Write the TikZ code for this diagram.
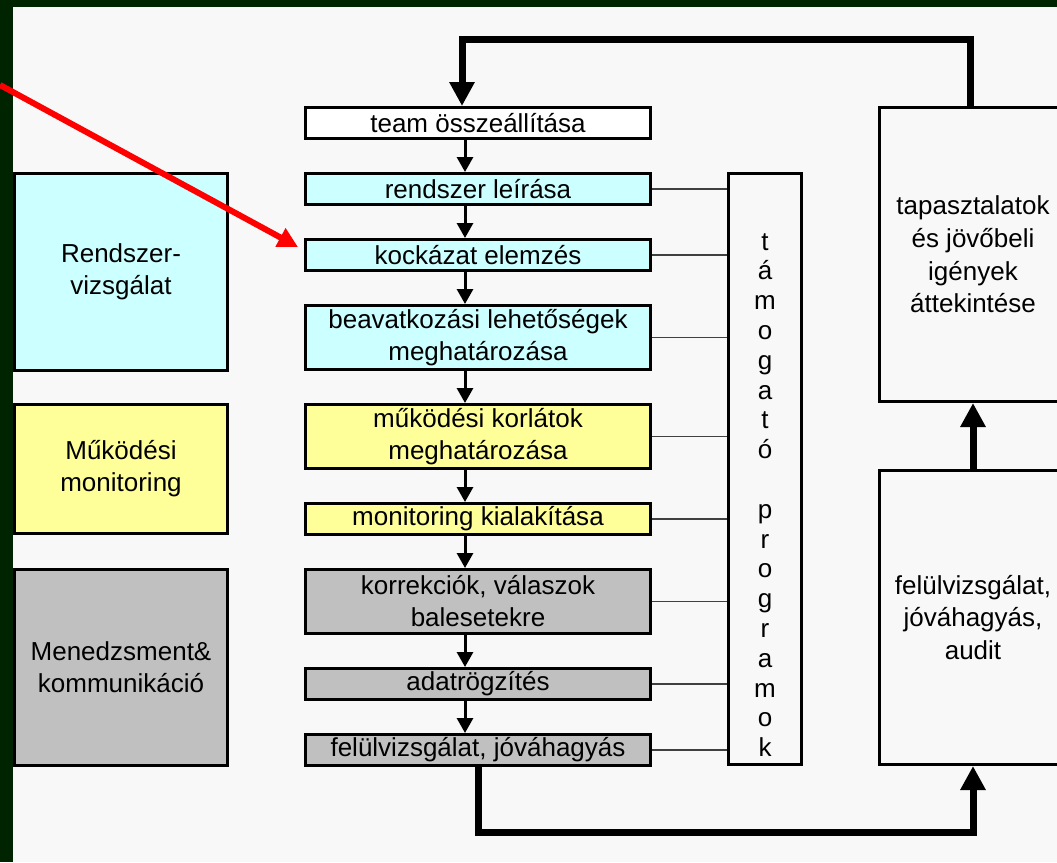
\documentclass[tikz,border=0pt]{standalone}
\usepackage{fontspec}
\setmainfont{Liberation Sans}
\usetikzlibrary{arrows.meta,positioning}
\definecolor{DarkFrame}{RGB}{0,36,0}
\definecolor{PaperGray}{RGB}{248,248,248}
\definecolor{SoftCyan}{RGB}{204,255,255}
\definecolor{SoftYellow}{RGB}{255,255,153}
\definecolor{MidGray}{RGB}{192,192,192}

\begin{document}
\begin{tikzpicture}[>=Latex, font=\fontsize{18.5}{22.8}\selectfont,
    flowbox/.style={draw, line width=0.075cm, minimum width=8.625cm, minimum height=0.775cm, inner sep=0pt, align=center},
    twoline/.style={minimum height=1.6cm},
    phasebox/.style={draw, line width=0.075cm, minimum width=5.325cm, inner sep=0pt, align=center},
    reviewbox/.style={draw, line width=0.075cm, fill=PaperGray, minimum width=4.675cm, minimum height=7.35cm, inner sep=0pt, align=center, font=\fontsize{18.5}{23.3}\selectfont},
    flow/.style={line width=0.075cm, -{Triangle[width=0.4cm,length=0.375cm]}},
    loopline/.style={line width=0.175cm, -{Triangle[width=0.6cm,length=0.6cm]}},
    link/.style={line width=0.03cm, black!75}]
    \clip (0,0) rectangle (26.425,-21.55);
    \fill [DarkFrame] (0,0) rectangle (26.425,-21.55);
    \fill [PaperGray] (0.325,-0.175) rectangle (26.425,-21.55);

    \node [flowbox, fill=white] (team) at (11.95,-3.075) {team összeállítása};
    \node [flowbox, fill=SoftCyan, below=0.8cm of team] (leiras) {rendszer leírása};
    \node [flowbox, fill=SoftCyan, below=0.8cm of leiras] (kockazat) {kockázat elemzés};
    \node [flowbox, twoline, fill=SoftCyan, below=0.8cm of kockazat] (beavatkozas) {beavatkozási lehetőségek\\meghatározása};
    \node [flowbox, twoline, fill=SoftYellow, below=0.8cm of beavatkozas] (korlatok) {működési korlátok\\meghatározása};
    \node [flowbox, fill=SoftYellow, below=0.8cm of korlatok] (monitoring) {monitoring kialakítása};
    \node [flowbox, twoline, fill=MidGray, below=0.8cm of monitoring] (korrekcio) {korrekciók, válaszok\\balesetekre};
    \node [flowbox, fill=MidGray, below=0.8cm of korrekcio] (adat) {adatrögzítés};
    \node [flowbox, fill=MidGray, below=0.8cm of adat] (jovahagyas) {felülvizsgálat, jóváhagyás};

    \node [phasebox, fill=SoftCyan, minimum height=4.925cm] (rendszer) at (3.025,-6.8) {Rendszer-\\vizsgálat};
    \node [phasebox, fill=SoftYellow, minimum height=3.225cm] (mukodes) at (3.025,-11.725) {Működési\\monitoring};
    \node [phasebox, fill=MidGray, minimum height=4.9cm] (menedzsment) at (3.025,-16.6875) {Menedzsment\&\\kommunikáció};

    \node [draw, line width=0.075cm, fill=PaperGray, minimum width=1.825cm, minimum height=14.775cm] (tamogato) at (19.125,-11.725) {};
    \node [align=center, inner sep=0pt, font=\fontsize{18.5}{21.2}\selectfont] (tamszoveg) at ([yshift=-0.65cm]tamogato.center) {t\\á\\m\\o\\g\\a\\t\\ó\\\mbox{}\\p\\r\\o\\g\\r\\a\\m\\o\\k};

    \node [reviewbox] (tapasztalat) at (24.325,-6.3625) {tapasztalatok\\és jövőbeli\\igények\\áttekintése};
    \node [reviewbox] (audit) at (24.325,-15.4375) {felülvizsgálat,\\jóváhagyás,\\audit};

    \draw [flow] ([xshift=-0.325cm]team.south) -- ([xshift=-0.325cm]leiras.north);
    \draw [flow] ([xshift=-0.325cm]leiras.south) -- ([xshift=-0.325cm]kockazat.north);
    \draw [flow] ([xshift=-0.325cm]kockazat.south) -- ([xshift=-0.325cm]beavatkozas.north);
    \draw [flow] ([xshift=-0.325cm]beavatkozas.south) -- ([xshift=-0.325cm]korlatok.north);
    \draw [flow] ([xshift=-0.325cm]korlatok.south) -- ([xshift=-0.325cm]monitoring.north);
    \draw [flow] ([xshift=-0.325cm]monitoring.south) -- ([xshift=-0.325cm]korrekcio.north);
    \draw [flow] ([xshift=-0.325cm]korrekcio.south) -- ([xshift=-0.325cm]adat.north);
    \draw [flow] ([xshift=-0.325cm]adat.south) -- ([xshift=-0.325cm]jovahagyas.north);

    \draw [link] (leiras.east) -- (leiras.east -| tamogato.west);
    \draw [link] (kockazat.east) -- (kockazat.east -| tamogato.west);
    \draw [link] (beavatkozas.east) -- (beavatkozas.east -| tamogato.west);
    \draw [link] (korlatok.east) -- (korlatok.east -| tamogato.west);
    \draw [link] (monitoring.east) -- (monitoring.east -| tamogato.west);
    \draw [link] (korrekcio.east) -- (korrekcio.east -| tamogato.west);
    \draw [link] (adat.east) -- (adat.east -| tamogato.west);
    \draw [link] (jovahagyas.east) -- (jovahagyas.east -| tamogato.west);

    \draw [loopline] ([xshift=-0.075cm]tapasztalat.north) -- ++(0,1.66) -| ([xshift=-0.4cm]team.north);
    \draw [loopline] (jovahagyas.south) -- ++(0,-1.625) -| (audit.south);
    \draw [loopline] (audit.north) -- (tapasztalat.south);

    \coordinate (pointer) at (0,-2.125);
    \draw [line width=0.15cm, red, -{Triangle[width=0.5cm,length=0.5cm]}] (pointer) -- ([xshift=-0.15cm,yshift=0.2cm]kockazat.west);
\end{tikzpicture}
\end{document}
